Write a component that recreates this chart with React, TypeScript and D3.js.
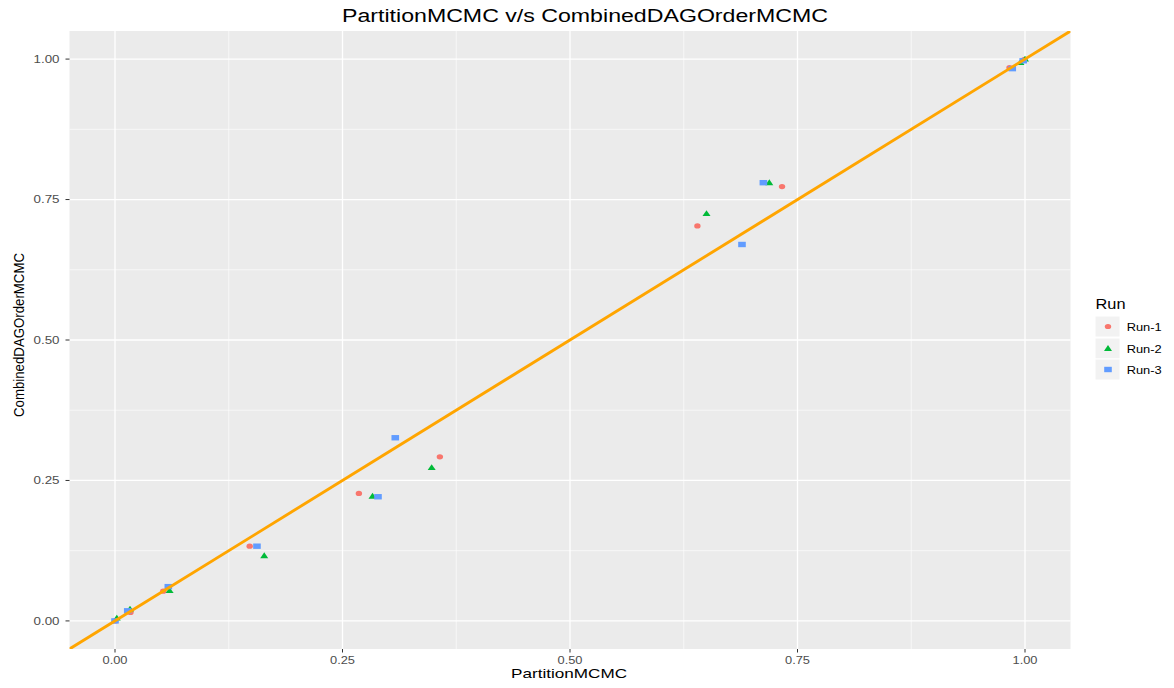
import React from "react";
import * as d3 from "d3";

const runs = ["Run-1", "Run-2", "Run-3"];
const colors = ["#F8766D", "#00BA38", "#619CFF"];

const run1X = [0.0, 0.017, 0.053, 0.148, 0.268, 0.357, 0.640, 0.733, 0.983, 0.999];
const run1Y = [0.0, 0.015, 0.053, 0.133, 0.227, 0.292, 0.703, 0.773, 0.985, 0.999];
const run2X = [0.002, 0.0165, 0.060, 0.164, 0.283, 0.348, 0.650, 0.719, 0.995, 1.0];
const run2Y = [0.005, 0.021, 0.054, 0.116, 0.222, 0.273, 0.725, 0.780, 0.994, 1.0];
const run3X = [0.0, 0.014, 0.0586, 0.156, 0.289, 0.308, 0.689, 0.7125, 0.986, 0.998];
const run3Y = [0.0, 0.018, 0.061, 0.133, 0.221, 0.326, 0.670, 0.780, 0.983, 0.997];

const majorTicks = [0, 0.25, 0.5, 0.75, 1.0];
const minorTicks = [0.125, 0.375, 0.625, 0.875];
const tickLabels = ["0.00", "0.25", "0.50", "0.75", "1.00"];

const title = "PartitionMCMC v/s CombinedDAGOrderMCMC";
const xTitle = "PartitionMCMC";
const yTitle = "CombinedDAGOrderMCMC";
const legendTitle = "Run";

const W = 1174;
const H = 688;
const P = { left: 69.5, right: 1070.5, top: 31, bottom: 649 };
const FONT = "'Liberation Sans', Arial, Helvetica, sans-serif";

function Shape({ kind, x, y, color }: { kind: number; x: number; y: number; color: string }) {
  if (kind === 0) return <ellipse cx={x} cy={y} rx={3.2} ry={2.6} fill={color} />;
  if (kind === 1) {
    const p = d3.path();
    p.moveTo(x, y - 3.4);
    p.lineTo(x + 4, y + 2.5);
    p.lineTo(x - 4, y + 2.5);
    p.closePath();
    return <path d={p.toString()} fill={color} />;
  }
  return <rect x={x - 3.8} y={y - 2.7} width={7.6} height={5.4} fill={color} />;
}

export default function App() {
  const x = d3.scaleLinear().domain([-0.05, 1.05]).range([P.left, P.right]);
  const y = d3.scaleLinear().domain([-0.05, 1.05]).range([P.bottom, P.top]);
  const series = [
    { xs: run1X, ys: run1Y },
    { xs: run2X, ys: run2Y },
    { xs: run3X, ys: run3Y },
  ];
  const lineGen = d3.line<number>().x((d) => x(d)).y((d) => y(d));
  const linePts = [-0.05, 1.05];

  const legendRows = [326.5, 348.5, 369.5];

  return (
    <svg width={W} height={H} style={{ position: "absolute", left: 0, top: 0, background: "#fff" }} fontFamily={FONT}>
      <defs>
        <clipPath id="panel">
          <rect x={P.left} y={P.top} width={P.right - P.left} height={P.bottom - P.top} />
        </clipPath>
      </defs>
      <rect x={P.left} y={P.top} width={P.right - P.left} height={P.bottom - P.top} fill="#EBEBEB" />
      {minorTicks.map((t) => (
        <g key={"mn" + t}>
          <line x1={x(t)} x2={x(t)} y1={P.top} y2={P.bottom} stroke="#fff" strokeWidth={0.6} />
          <line x1={P.left} x2={P.right} y1={y(t)} y2={y(t)} stroke="#fff" strokeWidth={0.6} />
        </g>
      ))}
      {majorTicks.map((t) => (
        <g key={"mj" + t}>
          <line x1={x(t)} x2={x(t)} y1={P.top} y2={P.bottom} stroke="#fff" strokeWidth={1.3} />
          <line x1={P.left} x2={P.right} y1={y(t)} y2={y(t)} stroke="#fff" strokeWidth={1.3} />
        </g>
      ))}
      <g clipPath="url(#panel)">
        {series.map((s, i) =>
          s.xs.map((v, j) => <Shape key={i + "-" + j} kind={i} x={x(v)} y={y(s.ys[j])} color={colors[i]} />)
        )}
        <path d={lineGen(linePts) || ""} stroke="#FFA500" strokeWidth={2.9} fill="none" />
      </g>
      {majorTicks.map((t, i) => (
        <g key={"xt" + t}>
          <line x1={x(t)} x2={x(t)} y1={P.bottom} y2={P.bottom + 3.5} stroke="#333" strokeWidth={1} />
          <text x={x(t)} y={664} textAnchor="middle" fontSize={10.5} fill="#4D4D4D" textLength={25} lengthAdjust="spacingAndGlyphs">
            {tickLabels[i]}
          </text>
        </g>
      ))}
      {majorTicks.map((t, i) => (
        <g key={"yt" + t}>
          <line x1={P.left - 4} x2={P.left} y1={y(t)} y2={y(t)} stroke="#333" strokeWidth={1} />
          <text x={59.5} y={y(t) + 3.8} textAnchor="end" fontSize={10.5} fill="#4D4D4D" textLength={26} lengthAdjust="spacingAndGlyphs">
            {tickLabels[i]}
          </text>
        </g>
      ))}
      <text x={585} y={22} textAnchor="middle" fontSize={17.5} fill="#000" textLength={486} lengthAdjust="spacingAndGlyphs">
        {title}
      </text>
      <text x={569} y={678} textAnchor="middle" fontSize={13} fill="#000" textLength={116} lengthAdjust="spacingAndGlyphs">
        {xTitle}
      </text>
      <text
        transform={`translate(24,335) rotate(-90)`}
        textAnchor="middle"
        fontSize={15}
        fill="#000"
        textLength={164}
        lengthAdjust="spacingAndGlyphs"
      >
        {yTitle}
      </text>
      <text x={1095.5} y={309.3} fontSize={14} fill="#000" textLength={30} lengthAdjust="spacingAndGlyphs">
        {legendTitle}
      </text>
      {runs.map((r, i) => (
        <g key={r}>
          <rect x={1095} y={legendRows[i] - 10.5} width={25} height={21} fill="#F2F2F2" stroke="#fff" strokeWidth={1} />
          <Shape kind={i} x={1108} y={legendRows[i]} color={colors[i]} />
          <text x={1126.7} y={legendRows[i] + 4} fontSize={11} fill="#000" textLength={35} lengthAdjust="spacingAndGlyphs">
            {r}
          </text>
        </g>
      ))}
    </svg>
  );
}
